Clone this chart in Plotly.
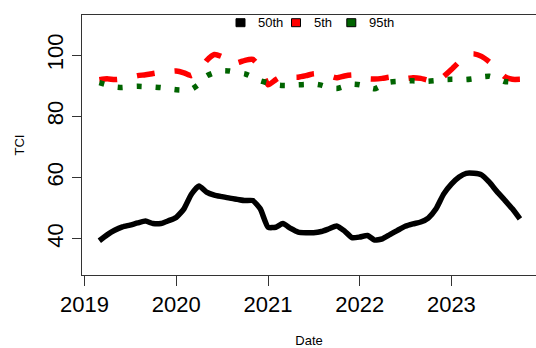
import plotly.graph_objects as go

dates = [f"{y}-{m:02d}-01" for y in range(2019, 2024) for m in range(1, 13)]
dates = [d for d in dates if "2019-03-01" <= d <= "2023-10-01"]

p50 = [39.4, 41.3, 42.8, 43.9, 44.5, 45.2, 45.8, 45.0, 45.0, 45.9,
       47.0, 49.8, 54.5, 57.3, 55.3, 54.3, 53.8, 53.3, 52.9, 52.5, 52.5, 49.8,
       43.8, 43.8, 45.0, 43.4, 42.2, 42.0, 42.0, 42.4, 43.3, 44.2, 42.6, 40.4,
       40.6, 41.1, 39.6, 40.0, 41.4, 42.8, 44.1, 44.9, 45.5, 46.8, 49.8, 54.6,
       57.9, 60.2, 61.4, 61.4, 60.9, 58.5, 55.5, 52.7, 49.8, 46.5]

p5 = [92.0, 92.3, 92.0, 92.2, 92.8, 93.3, 93.6, 94.0, 94.4, 94.6,
      94.8, 94.2, 93.3, 95.0, 98.2, 100.2, 99.5, 97.5, 97.5, 98.3, 98.6, 96.0,
      90.3, 92.0, 93.3, 92.8, 92.8, 93.3, 93.9, 94.0, 93.3, 92.6, 93.2, 93.5,
      93.0, 92.3, 92.2, 92.4, 92.8, 92.5, 92.3, 92.6, 92.4, 91.8, 91.3, 93.0,
      95.3, 97.8, 100.2, 100.4, 99.6, 97.8, 95.5, 93.0, 92.1, 92.1]

p95 = [91.0, 90.3, 89.6, 89.4, 89.7, 89.8, 89.7, 89.6, 89.4, 89.0,
       88.7, 88.6, 88.8, 90.5, 93.2, 94.3, 94.9, 94.8, 94.3, 93.9, 92.8, 91.6,
       90.9, 90.3, 90.1, 90.1, 90.3, 90.4, 90.6, 90.2, 89.4, 89.1, 89.8, 90.5,
       90.3, 89.5, 89.0, 90.2, 91.2, 91.4, 91.6, 91.6, 91.5, 91.5, 91.7, 92.0,
       92.1, 92.1, 92.0, 92.3, 92.9, 93.1, 92.4, 91.4, 91.2, 91.2]

names = ["50th", "5th", "95th"]
colors = ["#000000", "#FF0000", "#006400"]
dashes = ["solid", "18px,20px", "5px,14px"]
series = [p50, p5, p95]

year_ticks = ["2019-01-01", "2020-01-01", "2021-01-01", "2022-01-01", "2023-01-01"]
year_labels = ["2019", "2020", "2021", "2022", "2023"]
y_ticks = [40, 60, 80, 100]

FONT = "Liberation Sans, Arial, sans-serif"

W, H = 536, 348
ML, MR, MT, MB = 82, 0, 15, 73
PW, PH = W - ML - MR, H - MT - MB

def px_x(px):
    return (px - ML) / PW

def px_y(py):
    return (H - MB - py) / PH

fig = go.Figure()
for name, col, dsh, vals in zip(names, colors, dashes, series):
    fig.add_trace(go.Scatter(x=dates, y=vals, mode="lines", name=name, showlegend=False,
                             line=dict(color=col, width=5.5, dash=dsh, shape="spline", smoothing=0.5)))

# legend (drawn as keys + text, R-style horizontal legend at top)
key_centers = [240.5, 296.0, 351.3]
key_y = 22.7
for name, col, cx in zip(names, colors, key_centers):
    fig.add_shape(type="rect", xref="paper", yref="paper",
                  x0=px_x(cx - 4.5), x1=px_x(cx + 4.5),
                  y0=px_y(key_y + 4), y1=px_y(key_y - 4),
                  fillcolor=col, line=dict(color="#000000", width=1))
    fig.add_annotation(text=name, xref="paper", yref="paper",
                       x=px_x(cx + 15.5), y=px_y(key_y), xanchor="left", yanchor="middle",
                       showarrow=False, font=dict(size=13, family=FONT, color="#000000"))

fig.update_layout(
    width=W, height=H,
    margin=dict(l=ML, r=MR, t=MT, b=MB),
    paper_bgcolor="white", plot_bgcolor="white",
    font=dict(family=FONT, color="#000000"),
    showlegend=False,
    xaxis=dict(type="date", range=["2018-12-22", "2023-12-04"],
               tickvals=year_ticks, ticktext=year_labels,
               showline=True, mirror=True, linecolor="#333333", linewidth=1,
               ticks="outside", ticklen=10, tickcolor="#333333", tickwidth=1,
               tickfont=dict(size=22), showgrid=False, zeroline=False,
               title=dict(text="Date", font=dict(size=13), standoff=22)),
    yaxis=dict(range=[28.2, 113.1], tickvals=y_ticks,
               showline=True, mirror=False, linecolor="#333333", linewidth=1,
               ticks="outside", ticklen=9, tickcolor="#333333", tickwidth=1,
               tickfont=dict(size=22), tickangle=-90, showgrid=False, zeroline=False,
               title=dict(text="TCI", font=dict(size=13), standoff=15)),
)

fig.write_html("out.html")
